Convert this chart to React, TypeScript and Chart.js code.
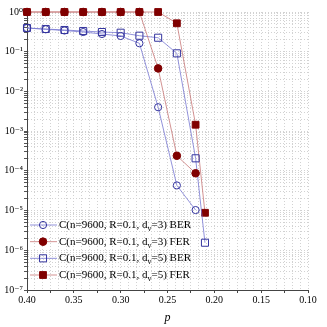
import React, { useEffect, useRef } from 'react';
import { Chart, registerables } from 'chart.js';

Chart.register(...registerables);

// ---- data ----
const pValues = [0.40, 0.38, 0.36, 0.34, 0.32, 0.30, 0.28, 0.26, 0.24, 0.22, 0.21];
const berD3 = [0.395, 0.367, 0.342, 0.313, 0.279, 0.249, 0.163, 0.0040, 4.3e-5, 1.03e-5];
const ferD3 = [1, 1, 1, 1, 1, 1, 1, 0.038, 2.4e-4, 8.7e-5];
const berD5 = [0.395, 0.373, 0.352, 0.332, 0.313, 0.301, 0.253, 0.225, 0.091, 2.07e-4, 1.55e-6];
const ferD5 = [1, 1, 1, 1, 1, 1, 1, 1, 0.52, 1.45e-3, 8.8e-6];

const seriesLabels = [
  'C(n=9600, R=0.1, d_v=3) BER',
  'C(n=9600, R=0.1, d_v=3) FER',
  'C(n=9600, R=0.1, d_v=5) BER',
  'C(n=9600, R=0.1, d_v=5) FER',
];

const xTickLabels = ['0.10', '0.15', '0.20', '0.25', '0.30', '0.35', '0.40'];
const yDecades = [-7, -6, -5, -4, -3, -2, -1, 0];
const yTickLabels = ['10⁻⁷', '10⁻⁶', '10⁻⁵', '10⁻⁴', '10⁻³', '10⁻²', '10⁻¹', '10⁰'];
const yMinorMultipliers = [1, 2, 3, 4, 5, 6, 7, 8, 9];

const FONT = "'Liberation Serif', 'Times New Roman', 'DejaVu Serif', serif";
const BLUE_LINE = 'rgba(120,120,210,0.8)';
const BLUE_MARK = '#34349e';
const RED_LINE = 'rgba(200,120,120,0.8)';
const RED_MARK = '#800000';
const GRID = '#d2d2d2';

const toPoints = (ys: number[]) => ys.map((y, i) => ({ x: pValues[i], y }));

const legendPlugin = {
  id: 'insideLegend',
  afterDraw(chart: any) {
    const { ctx, chartArea } = chart;
    chart.data.datasets.forEach((ds: any, i: number) => {
      const y = chartArea.bottom - 65 + i * 16.67;
      const x0 = chartArea.left + 3;
      const x1 = chartArea.left + 30;
      const xm = chartArea.left + 16;
      ctx.save();
      ctx.strokeStyle = ds.borderColor;
      ctx.lineWidth = 1;
      ctx.beginPath();
      ctx.moveTo(x0, y);
      ctx.lineTo(x1, y);
      ctx.stroke();
      ctx.strokeStyle = ds.pointBorderColor;
      ctx.fillStyle = ds.pointBackgroundColor;
      ctx.beginPath();
      if (ds.pointStyle === 'circle') {
        ctx.arc(xm, y, ds.pointRadius, 0, Math.PI * 2);
      } else {
        const h = ds.pointRadius * Math.SQRT1_2;
        ctx.rect(xm - h, y - h, 2 * h, 2 * h);
      }
      ctx.fill();
      ctx.stroke();
      // text with subscript
      const label: string = ds.label;
      const [pre, rest] = label.split('_');
      const sub = rest.charAt(0);
      const post = rest.slice(1);
      ctx.fillStyle = '#000';
      ctx.textBaseline = 'middle';
      ctx.font = `11px ${FONT}`;
      let tx = chartArea.left + 32;
      ctx.fillText(pre, tx, y);
      tx += ctx.measureText(pre).width;
      ctx.font = `8px ${FONT}`;
      ctx.fillText(sub, tx, y + 4);
      tx += ctx.measureText(sub).width;
      ctx.font = `11px ${FONT}`;
      ctx.fillText(post, tx, y);
      ctx.restore();
    });
  },
};

export default function App() {
  const canvasRef = useRef<HTMLCanvasElement | null>(null);

  useEffect(() => {
    document.body.style.margin = '0';
    const canvas = canvasRef.current;
    if (!canvas) return;
    const chart = new Chart(canvas, {
      type: 'line',
      data: {
        datasets: [
          {
            label: seriesLabels[0],
            data: toPoints(berD3),
            borderColor: BLUE_LINE,
            borderWidth: 1,
            pointStyle: 'circle',
            pointRadius: 3.6,
            pointBorderWidth: 1,
            pointBorderColor: BLUE_MARK,
            pointBackgroundColor: 'rgba(255,255,255,0)',
            clip: false,
          } as any,
          {
            label: seriesLabels[1],
            data: toPoints(ferD3),
            borderColor: RED_LINE,
            borderWidth: 1,
            pointStyle: 'circle',
            pointRadius: 3.8,
            pointBorderWidth: 1,
            pointBorderColor: RED_MARK,
            pointBackgroundColor: RED_MARK,
            clip: false,
          },
          {
            label: seriesLabels[2],
            data: toPoints(berD5),
            borderColor: BLUE_LINE,
            borderWidth: 1,
            pointStyle: 'rect',
            pointRadius: 5,
            pointBorderWidth: 1,
            pointBorderColor: BLUE_MARK,
            pointBackgroundColor: 'rgba(255,255,255,0)',
            clip: false,
          },
          {
            label: seriesLabels[3],
            data: toPoints(ferD5),
            borderColor: RED_LINE,
            borderWidth: 1,
            pointStyle: 'rect',
            pointRadius: 4.8,
            pointBorderWidth: 1,
            pointBorderColor: RED_MARK,
            pointBackgroundColor: RED_MARK,
            clip: false,
          },
        ],
      },
      options: {
        animation: false,
        responsive: false,
        layout: { padding: { top: 12, right: 19, left: 0, bottom: 0 } },
        plugins: {
          legend: { display: false },
          tooltip: { enabled: false },
        },
        scales: {
          x: {
            type: 'linear',
            reverse: true,
            min: 0.1,
            max: 0.4,
            afterBuildTicks: (scale: any) => {
              const t = [];
              for (let k = 0; k <= 36; k++) t.push({ value: 0.1 + (k * 0.05) / 6 });
              scale.ticks = t;
            },
            afterFit: (scale: any) => {
              scale.height = 37;
            },
            ticks: {
              autoSkip: false,
              maxRotation: 0,
              padding: 1,
              color: '#000',
              font: { family: FONT, size: 10 },
              callback: (value: any) => {
                const v = Number(value);
                if (Math.abs(v * 20 - Math.round(v * 20)) < 1e-6) {
                  const s = v.toFixed(2);
                  return xTickLabels.includes(s) ? s : '';
                }
                return '';
              },
            },
            grid: {
              color: GRID,
              lineWidth: 1,
              drawTicks: true,
              tickLength: 3,
              tickBorderDash: [],
              tickColor: (ctx: any) => {
                const v = ctx.tick ? ctx.tick.value : 0;
                return Math.abs(v * 40 - Math.round(v * 40)) < 1e-6 ? '#444' : 'rgba(0,0,0,0)';
              },
            },
            border: { display: true, color: '#444', width: 1, dash: [1, 2] },
            title: {
              display: true,
              text: 'p',
              color: '#000',
              font: { family: FONT, size: 12, style: 'italic' },
              padding: { top: 0, bottom: 2 },
            },
          },
          y: {
            type: 'logarithmic',
            min: 1e-7,
            max: 1,
            afterBuildTicks: (scale: any) => {
              const t: any[] = [];
              yDecades.forEach((d) =>
                yMinorMultipliers.forEach((m) => {
                  if (d === 0 && m > 1) return;
                  t.push({ value: m * Math.pow(10, d) });
                })
              );
              scale.ticks = t;
            },
            afterFit: (scale: any) => {
              scale.width = 27;
            },
            ticks: {
              autoSkip: false,
              padding: 1,
              color: '#000',
              font: { family: FONT, size: 10 },
              callback: (value: any) => {
                const v = Number(value);
                const d = Math.round(Math.log10(v));
                if (Math.abs(v - Math.pow(10, d)) / Math.pow(10, d) < 1e-6) {
                  const idx = yDecades.indexOf(d);
                  return idx >= 0 ? yTickLabels[idx] : '';
                }
                return '';
              },
            },
            grid: {
              color: GRID,
              lineWidth: 1,
              drawTicks: true,
              tickLength: 3,
              tickBorderDash: [],
              tickColor: '#555',
            },
            border: { display: true, color: '#444', width: 1, dash: [1, 2] },
          },
        },
      },
      plugins: [legendPlugin],
    } as any);
    return () => chart.destroy();
  }, []);

  return (
    <div style={{ width: 327, height: 327 }}>
      <canvas ref={canvasRef} width={327} height={327} />
    </div>
  );
}
